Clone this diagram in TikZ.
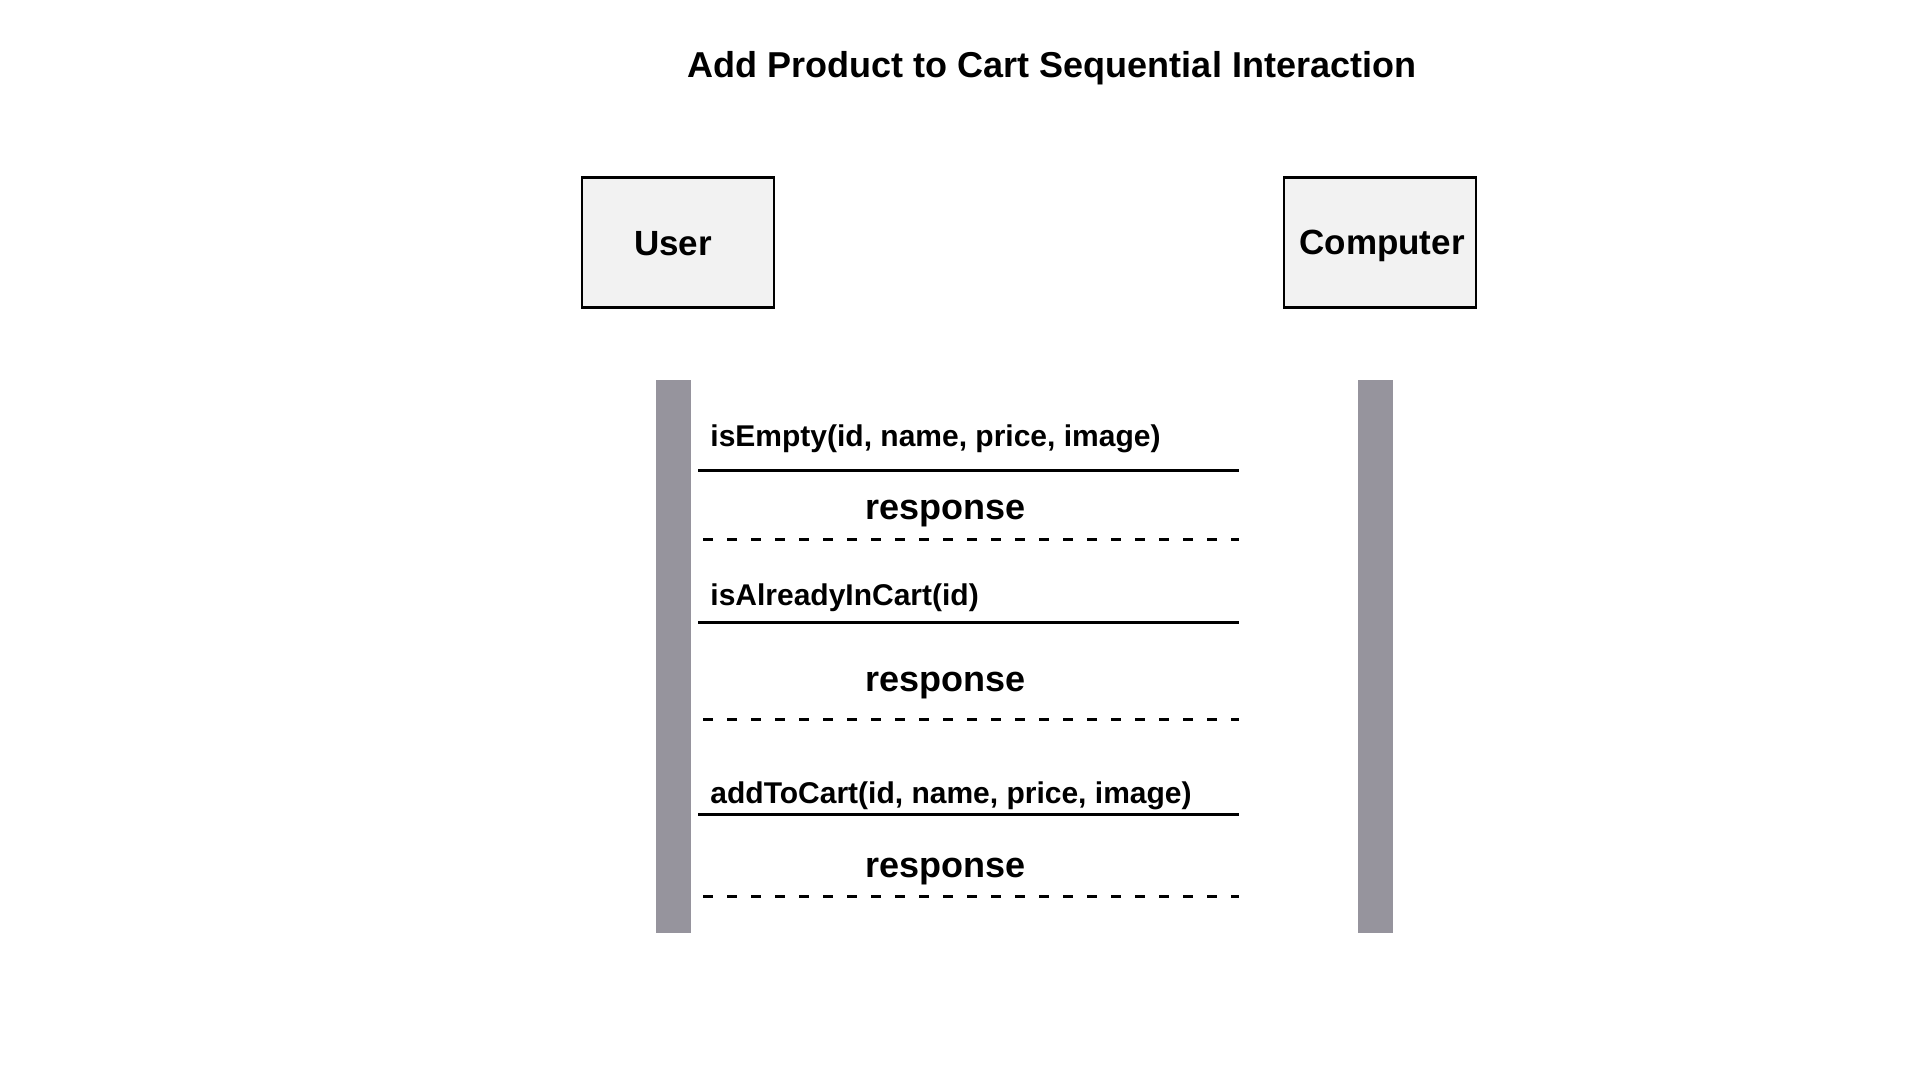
\documentclass[tikz,border=0pt]{standalone}
\usepackage{fontspec}
\setmainfont{Liberation Sans}
\definecolor{boxfill}{HTML}{F2F2F2}
\definecolor{lifegray}{HTML}{96949D}
\tikzset{
  actor/.style={draw=black, line width=1.4pt, fill=boxfill, minimum width=96pt, minimum height=65pt, inner sep=0pt, font=\fontsize{17.5}{20}\selectfont\bfseries},
  actorlabel/.style={anchor=center, inner sep=0pt, font=\fontsize{17.5}{20}\selectfont\bfseries},
  lifebar/.style={fill=lifegray, draw=none},
  msgtext/.style={anchor=base west, inner sep=0pt, font=\fontsize{15}{18}\selectfont\bfseries},
  resptext/.style={anchor=base, inner sep=0pt, font=\fontsize{18}{21}\selectfont\bfseries},
  callline/.style={line width=1.5pt},
  respline/.style={line width=1.5pt, dash pattern=on 5pt off 7pt},
}
\begin{document}
\begin{tikzpicture}[x=0.5pt, y=-0.5pt]
\useasboundingbox (0,0) rectangle (1920,1080);
\fill[white] (0,0) rectangle (1920,1080);
\node[anchor=base, inner sep=0pt, font=\fontsize{18}{21}\selectfont\bfseries] (title) at (1052,78) {Add Product to Cart Sequential Interaction};
\node[actor] (user) at (678,242.5) {};
\node[actorlabel] (userlbl) at (673,244) {User};
\node[actor] (comp) at (1380,242.5) {};
\node[actorlabel] (complbl) at (1382,246) {Computer};
\path[lifebar] (656,380) rectangle (690.5,933);
\path[lifebar] (1358,380) rectangle (1392.5,933);
% message 1
\node[msgtext] (t1) at (710,446) {isEmpty(id, name, price, image)};
\coordinate (a1) at (698,470);
\coordinate (b1) at (1239,470);
\draw[callline] (a1) -- (b1);
\node[resptext] (r1) at (945.5,519) {response};
\coordinate (c1) at (703,539);
\coordinate (d1) at (1239,539);
\draw[respline] (c1) -- (d1);
% message 2
\node[msgtext] (t2) at (710,605) {isAlreadyInCart(id)};
\coordinate (a2) at (698,622);
\coordinate (b2) at (1239,622);
\draw[callline] (a2) -- (b2);
\node[resptext] (r2) at (945.5,691) {response};
\coordinate (c2) at (703,719);
\coordinate (d2) at (1239,719);
\draw[respline] (c2) -- (d2);
% message 3
\node[msgtext] (t3) at (710,803) {addToCart(id, name, price, image)};
\coordinate (a3) at (698,814);
\coordinate (b3) at (1239,814);
\draw[callline] (a3) -- (b3);
\node[resptext] (r3) at (945.5,877) {response};
\coordinate (c3) at (703,896);
\coordinate (d3) at (1239,896);
\draw[respline] (c3) -- (d3);
\end{tikzpicture}
\end{document}
